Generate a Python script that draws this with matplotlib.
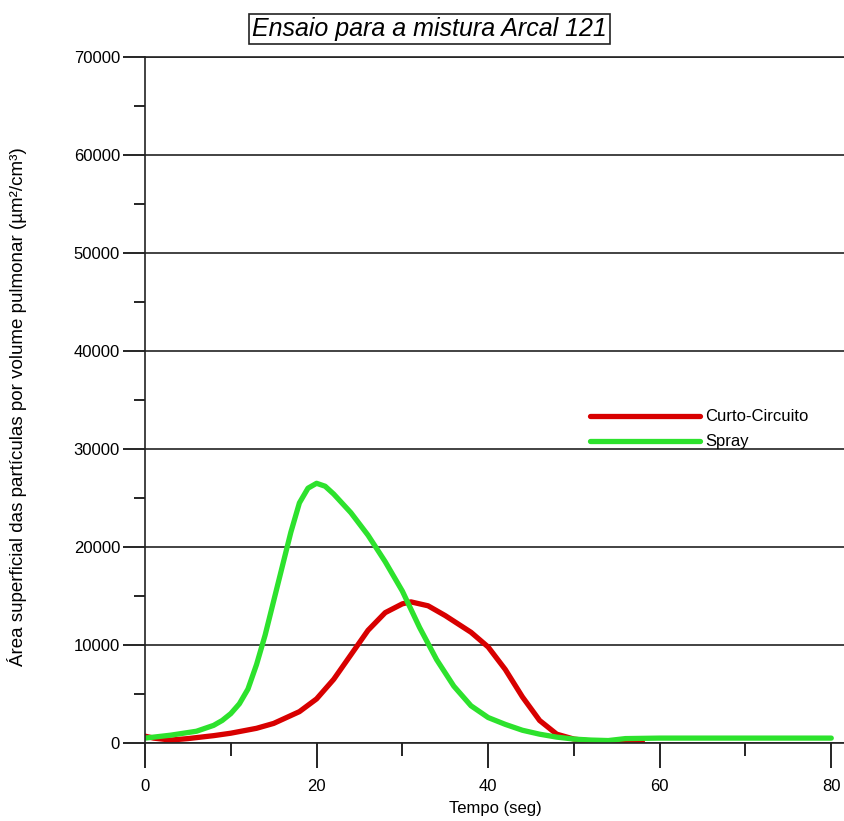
import matplotlib.pyplot as plt
from matplotlib.ticker import MultipleLocator

plt.rcParams['font.family'] = ['Liberation Sans', 'DejaVu Sans']

# Curto-Circuito
t_cc = [0, 1, 3, 5, 8, 10, 13, 15, 18, 20, 22, 24, 26, 28, 30, 31, 33, 35,
        38, 40, 42, 44, 46, 48, 50, 52, 55, 58]
a_cc = [700, 500, 300, 450, 750, 1000, 1500, 2000, 3200, 4500, 6500, 9000,
        11500, 13300, 14200, 14400, 14000, 13000, 11300, 9800, 7500, 4700,
        2300, 900, 400, 200, 100, 50]

# Spray
t_sp = [0, 3, 6, 8, 9, 10, 11, 12, 13, 14, 15, 16, 17, 18, 19, 20, 21, 22,
        24, 26, 28, 30, 32, 34, 36, 38, 40, 42, 44, 46, 48, 50, 52, 54, 56,
        60, 70, 80]
a_sp = [500, 800, 1200, 1800, 2300, 3000, 4000, 5500, 8000, 11000, 14500,
        18000, 21500, 24500, 26000, 26500, 26200, 25400, 23500, 21200, 18500,
        15500, 11800, 8500, 5800, 3800, 2600, 1900, 1300, 900, 600, 400, 300,
        250, 450, 500, 500, 500]

fig = plt.figure(figsize=(8.45, 8.21), dpi=100)
ax = fig.add_axes([0.1716, 0.095, 0.8284, 0.8356])

ax.plot(t_cc, a_cc, color='#d80000', lw=3.8, label='Curto-Circuito', solid_capstyle='round')
ax.plot(t_sp, a_sp, color='#2de22d', lw=3.8, label='Spray', solid_capstyle='round')

ax.set_xlim(0, 81.6)
ax.set_ylim(0, 70000)
ax.xaxis.set_major_locator(MultipleLocator(20))
ax.xaxis.set_minor_locator(MultipleLocator(10))
ax.yaxis.set_major_locator(MultipleLocator(10000))
ax.yaxis.set_minor_locator(MultipleLocator(5000))

for s in ['top', 'right']:
    ax.spines[s].set_visible(False)
for s in ['left', 'bottom']:
    ax.spines[s].set_linewidth(1.2)
    ax.spines[s].set_color('#222222')

ax.yaxis.grid(True, which='major', color='#222222', lw=1.2)
ax.set_axisbelow(True)
ax.axhline(70000, color='#222222', lw=1.2, clip_on=False)

ax.tick_params(axis='x', which='major', direction='out', length=18, width=1.2, pad=8, labelsize=12)
ax.tick_params(axis='x', which='minor', direction='out', length=9.5, width=1.2)
ax.tick_params(axis='y', which='major', direction='out', length=16, width=1.2, pad=2, labelsize=12)
ax.tick_params(axis='y', which='minor', direction='out', length=8, width=1.2)

ax.set_xlabel('Tempo (seg)', fontsize=12, labelpad=5)
ax.set_ylabel('Área superficial das partículas por volume pulmonar (µm²/cm³)', fontsize=13.5)
ax.yaxis.set_label_coords(-0.168, 0.49)

fig.text(0.508, 0.965, 'Ensaio para a mistura Arcal 121', fontsize=18, style='italic',
         ha='center', va='center',
         bbox=dict(boxstyle='square,pad=0.12', facecolor='white', edgecolor='#222222', lw=1.2))

ax.legend(loc='center left', bbox_to_anchor=(0.636, 0.457), frameon=False, fontsize=12,
          handlelength=6.6, handletextpad=0.3, labelspacing=0.6,
          borderpad=0, borderaxespad=0)

fig.savefig('out.png', dpi=100)
